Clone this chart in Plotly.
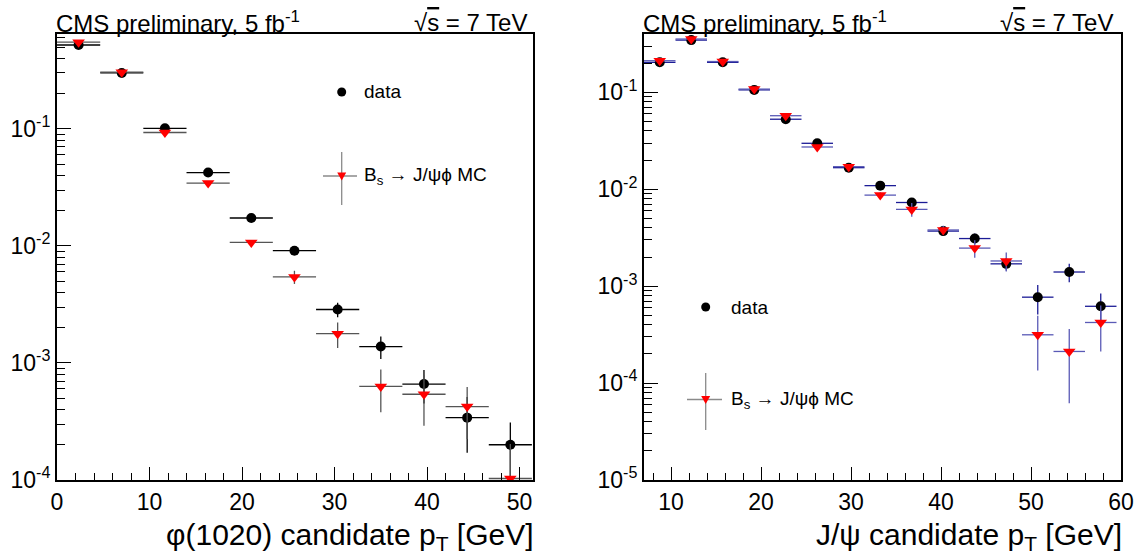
import plotly.graph_objects as go

# ---------------------------------------------------------------------------
# Normalised pT spectra: data vs Bs -> J/psi phi Monte Carlo
# ---------------------------------------------------------------------------

# phi(1020) candidate pT binning [GeV]
phi_bin_edges = [0.0, 4.67, 9.33, 14.0, 18.67, 23.33, 28.0, 32.67, 37.33, 42.0, 46.67, 51.33]
phi_data = [0.52, 0.30, 0.101, 0.0423, 0.0173, 0.0091, 0.00286, 0.00138, 0.00066, 0.000341, 0.00020]
phi_data_err = [0.004, 0.003, 0.0015, 0.0008, 0.0004, 0.0003, 0.0004, 0.0003, 0.00021, 0.00017, 0.00011]
phi_mc = [0.55, 0.305, 0.093, 0.0344, 0.0107, 0.00543, 0.00178, 0.00063, 0.00054, 0.000424, 0.000103]
phi_mc_err = [0.006, 0.004, 0.002, 0.0009, 0.0004, 0.0007, 0.00044, 0.00025, 0.00025, 0.0002, 0.0001]

# J/psi candidate pT binning [GeV]
jpsi_bin_edges = [7.0, 10.5, 14.0, 17.5, 21.0, 24.5, 28.0, 31.5, 35.0, 38.5, 42.0, 45.5, 49.0, 52.5, 56.0, 59.5]
jpsi_data = [0.204, 0.346, 0.204, 0.106, 0.0528, 0.0298, 0.0167, 0.0109, 0.0073, 0.0037, 0.0031, 0.0017, 0.00077, 0.0014, 0.00062]
jpsi_data_err = [0.003, 0.004, 0.003, 0.002, 0.0012, 0.0009, 0.0006, 0.0005, 0.0005, 0.0004, 0.0004, 0.00025, 0.00026, 0.0003, 0.00022]
jpsi_mc = [0.212, 0.355, 0.208, 0.108, 0.0574, 0.0273, 0.0171, 0.0087, 0.0062, 0.0038, 0.00247, 0.00182, 0.000315, 0.000212, 0.000422]
jpsi_mc_err = [0.003, 0.004, 0.003, 0.002, 0.0015, 0.001, 0.0008, 0.0006, 0.001, 0.0004, 0.0005, 0.0004, 0.00018, 0.00015, 0.00021]

phi_yticks = [1e-4, 1e-3, 1e-2, 1e-1]
phi_yticktext = ["10<sup>-4</sup>", "10<sup>-3</sup>", "10<sup>-2</sup>", "10<sup>-1</sup>"]
jpsi_yticks = [1e-5, 1e-4, 1e-3, 1e-2, 1e-1]
jpsi_yticktext = ["10<sup>-5</sup>", "10<sup>-4</sup>", "10<sup>-3</sup>", "10<sup>-2</sup>", "10<sup>-1</sup>"]

# ---------------------------------------------------------------------------
W, H = 1140, 559
FONT = "Liberation Sans, Arial, Helvetica, sans-serif"
DATA_COLOR = "black"
MC_COLOR = "#ff0000"


def centers(edges):
    return [(a + b) / 2 for a, b in zip(edges[:-1], edges[1:])]


def halfwidths(edges):
    return [(b - a) / 2 for a, b in zip(edges[:-1], edges[1:])]


def px(x, y):
    """Pixel position -> paper coordinates."""
    return x / W, 1 - y / H


def spectrum(edges, vals, errs, xa, ya, symbol, size, color, bar_color):
    return go.Scatter(
        x=centers(edges), y=vals, mode="markers",
        xaxis=xa, yaxis=ya, showlegend=False, cliponaxis=True,
        marker=dict(symbol=symbol, size=size, color=color, line=dict(width=0)),
        error_x=dict(type="data", array=halfwidths(edges), color=bar_color, thickness=1.3, width=0),
        error_y=dict(type="data", array=errs, color=bar_color, thickness=1.3, width=0),
    )


fig = go.Figure()
fig.add_trace(spectrum(phi_bin_edges, phi_data, phi_data_err, "x", "y", "circle", 10, DATA_COLOR, "black"))
fig.add_trace(spectrum(phi_bin_edges, phi_mc, phi_mc_err, "x", "y", "triangle-down", 11, MC_COLOR, "#555555"))
fig.add_trace(spectrum(jpsi_bin_edges, jpsi_data, jpsi_data_err, "x2", "y2", "circle", 10, DATA_COLOR, "#1c1c96"))
fig.add_trace(spectrum(jpsi_bin_edges, jpsi_mc, jpsi_mc_err, "x2", "y2", "triangle-down", 11, MC_COLOR, "#5a5ab6"))

# panel frames in pixels: (left, right, top, bottom)
LEFT_FRAME = (57, 533, 34, 480)
RIGHT_FRAME = (644, 1121, 34, 480)
X_RANGES = ([0, 51.45], [7, 60])
Y_RANGES = ([-4, -0.19], [-5, -0.398])

axis_common = dict(
    showline=True, linewidth=2, linecolor="black", mirror=True, automargin=False,
    ticks="inside", tickwidth=1, tickcolor="black", showgrid=False, zeroline=False,
    tickfont=dict(family=FONT, size=23, color="black"),
)


def xdom(frame):
    return [frame[0] / W, frame[1] / W]


def ydom(frame):
    return [1 - frame[3] / H, 1 - frame[2] / H]


def log_minor(lo, hi):
    return [m * 10.0 ** e for e in range(lo, hi) for m in range(2, 10)]


def x_axis(frame, rng, anchor, **extra):
    return dict(axis_common, domain=xdom(frame), range=rng, anchor=anchor,
                tick0=0, dtick=10, ticklen=13,
                minor=dict(ticks="inside", ticklen=7, tick0=0, dtick=2, tickcolor="black", showgrid=False),
                **extra)


def y_axis(frame, rng, anchor, tickvals, ticktext, **extra):
    return dict(axis_common, domain=ydom(frame), type="log", range=rng, anchor=anchor,
                tickmode="array", tickvals=tickvals, ticktext=ticktext, ticklen=14,
                minor=dict(ticks="inside", ticklen=8, tickmode="array",
                           tickvals=log_minor(int(rng[0]), 0), tickcolor="black", showgrid=False),
                **extra)


fig.update_layout(
    template="none",
    width=W, height=H, margin=dict(l=0, r=0, t=0, b=0, autoexpand=False),
    paper_bgcolor="white", plot_bgcolor="white",
    font=dict(family=FONT, color="black"),
    xaxis=x_axis(LEFT_FRAME, X_RANGES[0], "y"),
    yaxis=y_axis(LEFT_FRAME, Y_RANGES[0], "x", phi_yticks, phi_yticktext),
    xaxis2=x_axis(RIGHT_FRAME, X_RANGES[1], "y2"),
    yaxis2=y_axis(RIGHT_FRAME, Y_RANGES[1], "x2", jpsi_yticks, jpsi_yticktext),
    # tick marks along the top and right edges of each frame
    xaxis3=x_axis(LEFT_FRAME, X_RANGES[0], "y", overlaying="x", side="top", showticklabels=False),
    yaxis3=y_axis(LEFT_FRAME, Y_RANGES[0], "x", phi_yticks, phi_yticktext,
                  overlaying="y", side="right", showticklabels=False),
    xaxis4=x_axis(RIGHT_FRAME, X_RANGES[1], "y2", overlaying="x2", side="top", showticklabels=False),
    yaxis4=y_axis(RIGHT_FRAME, Y_RANGES[1], "x2", jpsi_yticks, jpsi_yticktext,
                  overlaying="y2", side="right", showticklabels=False),
)

annotations = []


def text(x, y, s, size, xanchor="left", yanchor="middle"):
    xp, yp = px(x, y)
    annotations.append(dict(
        x=xp, y=yp, xref="paper", yref="paper", text=s, showarrow=False,
        xanchor=xanchor, yanchor=yanchor, borderpad=0,
        font=dict(family=FONT, size=size, color="black"),
    ))


TITLE_LEFT = "CMS preliminary, 5 fb<sup>-1</sup>"
TITLE_RIGHT = '√<span style="text-decoration:overline">s</span> = 7 TeV'
for frame, right_edge in ((LEFT_FRAME, 528), (RIGHT_FRAME, 1114)):
    text(frame[0] - 2, 22, TITLE_LEFT, 24)
    text(right_edge, 22, TITLE_RIGHT, 24, xanchor="right")

text(LEFT_FRAME[1] + 2, 536, "φ(1020) candidate p<sub>T</sub> [GeV]", 30, xanchor="right")
text(RIGHT_FRAME[1] + 2, 536, "J/ψ candidate p<sub>T</sub> [GeV]", 30, xanchor="right")

# legend keys (pixel positions)
shapes = []
LEGENDS = [
    dict(dot=(341.7, 92), mc=(341.7, 176), vbar=(152, 205), hbar=(323, 357), tx=363),
    dict(dot=(705.7, 307), mc=(705.7, 399.5), vbar=(373, 430), hbar=(687, 722), tx=730),
]
for lg in LEGENDS:
    cx, cy = lg["dot"]
    x0, y0 = px(cx - 4.5, cy + 4.5)
    x1, y1 = px(cx + 4.5, cy - 4.5)
    shapes.append(dict(type="circle", xref="paper", yref="paper", x0=x0, y0=y0, x1=x1, y1=y1,
                       fillcolor="black", line=dict(width=0)))
    mx, my = lg["mc"]
    a = px(mx, lg["vbar"][0]); b = px(mx, lg["vbar"][1])
    shapes.append(dict(type="line", xref="paper", yref="paper", x0=a[0], y0=a[1], x1=b[0], y1=b[1],
                       line=dict(color="#8a8a8a", width=1.3)))
    a = px(lg["hbar"][0], my); b = px(lg["hbar"][1], my)
    shapes.append(dict(type="line", xref="paper", yref="paper", x0=a[0], y0=a[1], x1=b[0], y1=b[1],
                       line=dict(color="#8a8a8a", width=1.3)))
    p1 = px(mx - 4.5, my - 3.5); p2 = px(mx + 4.5, my - 3.5); p3 = px(mx, my + 4.5)
    shapes.append(dict(type="path", xref="paper", yref="paper",
                       path=f"M {p1[0]} {p1[1]} L {p2[0]} {p2[1]} L {p3[0]} {p3[1]} Z",
                       fillcolor=MC_COLOR, line=dict(width=0)))
    text(lg["tx"], cy, "data", 19)
    text(lg["tx"], my, "B<sub>s</sub> → J/ψϕ MC", 19)

fig.update_layout(annotations=annotations, shapes=shapes)
fig.write_html("out.html")
